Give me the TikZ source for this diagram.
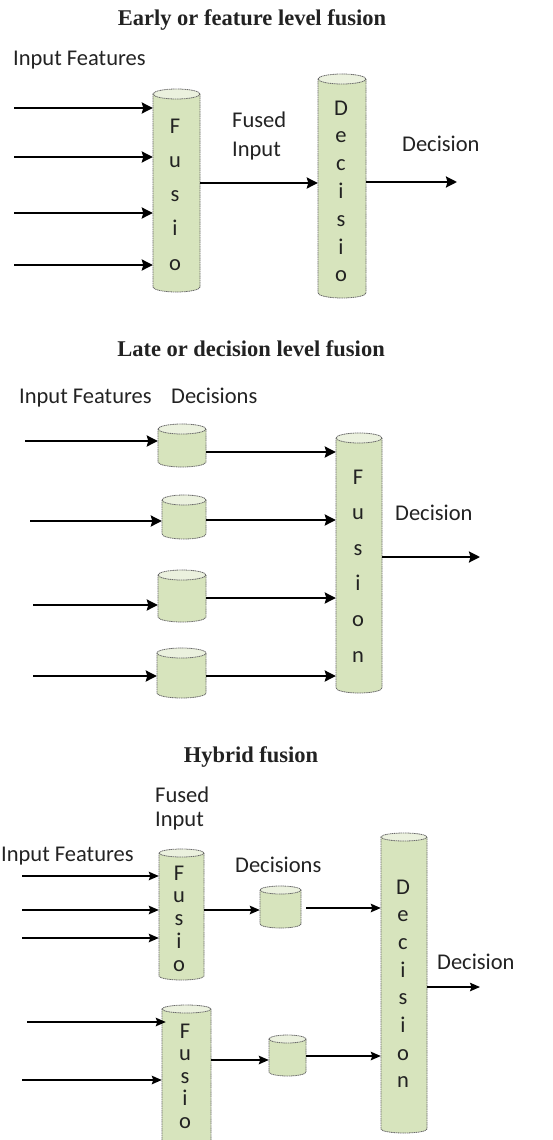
\documentclass[tikz,border=0pt]{standalone}
\usepackage{fontspec}
\setmainfont{Carlito}
\newfontfamily\headfont{Liberation Serif}
\usetikzlibrary{arrows.meta}

\definecolor{cylbody}{HTML}{D7E4BD}
\definecolor{cyltop}{HTML}{EBF1DE}
\definecolor{cylline}{HTML}{6A6A6A}
\definecolor{ink}{HTML}{222222}

% #1 name, #2 centre x, #3 top rim centre y, #4 bottom rim centre y,
% #5 half width, #6 rim half height (y grows downwards)
\newcommand\drawcyl[6]{%
  \fill[cylbody] (#2-#5,#3) -- (#2-#5,#4)
     arc[start angle=180,end angle=0,x radius=#5,y radius=#6] -- (#2+#5,#3) -- cycle;
  \draw[cylout] (#2-#5,#3) -- (#2-#5,#4)
     arc[start angle=180,end angle=0,x radius=#5,y radius=#6] -- (#2+#5,#3);
  \draw[cylout,fill=cyltop] (#2,#3) ellipse[x radius=#5,y radius=#6];
  \node[inner sep=0,minimum width=2*#5,minimum height=#4-#3] (#1) at (#2,{(#3+#4)/2}) {};
}

\tikzset{
  cylout/.style={draw=cylline,line width=0.8pt,dash pattern=on 1.2pt off 0.6pt},
  label/.style={anchor=base west,inner sep=0,text=ink,font=\fontsize{22.5}{27}\selectfont},
  letter/.style={anchor=base,inner sep=0,text=ink,font=\fontsize{22.5}{27}\selectfont},
  heading/.style={anchor=base,inner sep=0,text=ink,font=\headfont\bfseries\fontsize{22.5}{27}\selectfont},
  arrbig/.style={line width=2.2pt,draw=black,-{Stealth[length=11pt,width=11pt,inset=1.5pt]}},
  arrsmall/.style={line width=1.5pt,draw=black,-{Stealth[length=10pt,width=8.5pt,inset=1.5pt]}},
}

\begin{document}
\begin{tikzpicture}[x=1pt,y=-1pt]
\useasboundingbox (0,0) rectangle (552,1140);

% ---------------- Early fusion ----------------
\node[heading] (t1) at (252,26) {Early or feature level fusion};
\node[label] (if1) at (13,66) {Input Features};

\drawcyl{fus1}{176.5}{94}{287}{23.5}{5}
\foreach \ch [count=\i from 0] in {F,u,s,i,o}
  \node[letter] (fus1l\i) at (175,{133+34.25*\i}) {\ch};

\drawcyl{dec1}{342}{79}{293}{24}{5}
\foreach \ch [count=\i from 0] in {D,e,c,i,s,i,o}
  \node[letter] (dec1l\i) at (341,{115+27.8*\i}) {\ch};

\foreach \y [count=\i] in {108,157,213,265}{
  \coordinate (e1in\i) at (14,\y);
  \draw[arrbig] (e1in\i) -- (e1in\i -| fus1.west);
}
\node[label] (fi1a) at (232,127) {Fused};
\node[label] (fi1b) at (232,156) {Input};
\coordinate (e1row) at (0,183);
\draw[arrbig] (fus1.east |- e1row) -- (dec1.west |- e1row);
\coordinate (e1out) at (457,182);
\draw[arrbig] (dec1.east |- e1out) -- (e1out);
\node[label] (d1) at (402,151) {Decision};

% ---------------- Late fusion ----------------
\node[heading] (t2) at (251,356) {Late or decision level fusion};
\node[label] (if2) at (19,403) {Input Features};
\node[label] (ds2) at (171,403) {Decisions};

\drawcyl{dx1}{182}{429}{462}{24}{5}
\drawcyl{dx2}{184}{500}{534}{22}{5}
\drawcyl{dx3}{182}{575}{617}{24}{5}
\drawcyl{dx4}{181.5}{653}{693}{24.5}{5}

\drawcyl{fus2}{359}{438}{688}{23}{5}
\foreach \ch [count=\i from 0] in {F,u,s,i,o,n}
  \node[letter] (fus2l\i) at (358,{484+35.6*\i}) {\ch};

\coordinate (l2in1) at (25,441);
\coordinate (l2in2) at (30,521);
\coordinate (l2in3) at (33,605);
\coordinate (l2in4) at (33,676);
\foreach \i in {1,2,3,4}
  \draw[arrbig] (l2in\i) -- (l2in\i -| dx\i.west);

\coordinate (l2r1) at (0,452);
\coordinate (l2r2) at (0,520);
\coordinate (l2r3) at (0,598);
\coordinate (l2r4) at (0,676);
\foreach \i in {1,2,3,4}
  \draw[arrbig] (dx\i.east |- l2r\i) -- (fus2.west |- l2r\i);

\node[label] (d2) at (395,520) {Decision};
\coordinate (l2out) at (480,557);
\draw[arrbig] (fus2.east |- l2out) -- (l2out);

% ---------------- Hybrid fusion ----------------
\node[heading] (t3) at (251,762) {Hybrid fusion};
\node[label] (fi3a) at (155,802) {Fused};
\node[label] (fi3b) at (155,826) {Input};
\node[label] (if3) at (1,861) {Input Features};
\node[label] (ds3) at (235,872) {Decisions};

\drawcyl{fusA}{181.5}{853}{976}{22.5}{4}
\foreach \ch [count=\i from 0] in {F,u,s,i,o}
  \node[letter] (fusAl\i) at (179,{880+22.75*\i}) {\ch};

\drawcyl{fusC}{186.5}{1009}{1160}{24.5}{4}
\foreach \ch [count=\i from 0] in {F,u,s,i,o}
  \node[letter] (fusCl\i) at (185,{1038+22.5*\i}) {\ch};

\drawcyl{bA}{280.5}{890}{924}{20.5}{4}
\drawcyl{bC}{287.5}{1039}{1072}{18.5}{4}

\drawcyl{dec3}{404}{837}{1129}{23}{4}
\foreach \ch [count=\i from 0] in {D,e,c,i,s,i,o,n}
  \node[letter] (dec3l\i) at (403,{894+27.7*\i}) {\ch};

\foreach \y [count=\i] in {876,910,938}{
  \coordinate (h3a\i) at (22,\y);
  \draw[arrsmall] (h3a\i) -- (h3a\i -| fusA.west);
}
\coordinate (h3c1) at (27,1022);
\coordinate (h3c2) at (22,1080);
\draw[arrsmall] (h3c1) -- ([xshift=4pt]h3c1 -| fusC.west);
\draw[arrsmall] (h3c2) -- (h3c2 -| fusC.west);

\coordinate (h3r1) at (0,910);
\draw[arrsmall] (fusA.east |- h3r1) -- (bA.west |- h3r1);
\coordinate (h3r2) at (0,1060);
\draw[arrsmall] (fusC.east |- h3r2) -- (bC.west |- h3r2);

\coordinate (h3s1) at (0,908);
\draw[arrsmall] ([xshift=5pt]bA.east |- h3s1) -- (dec3.west |- h3s1);
\coordinate (h3s2) at (0,1056);
\draw[arrsmall] (bC.east |- h3s2) -- (dec3.west |- h3s2);

\node[label] (d3) at (437,969) {Decision};
\coordinate (h3out) at (480,987);
\draw[arrsmall] (dec3.east |- h3out) -- (h3out);
\end{tikzpicture}
\end{document}
